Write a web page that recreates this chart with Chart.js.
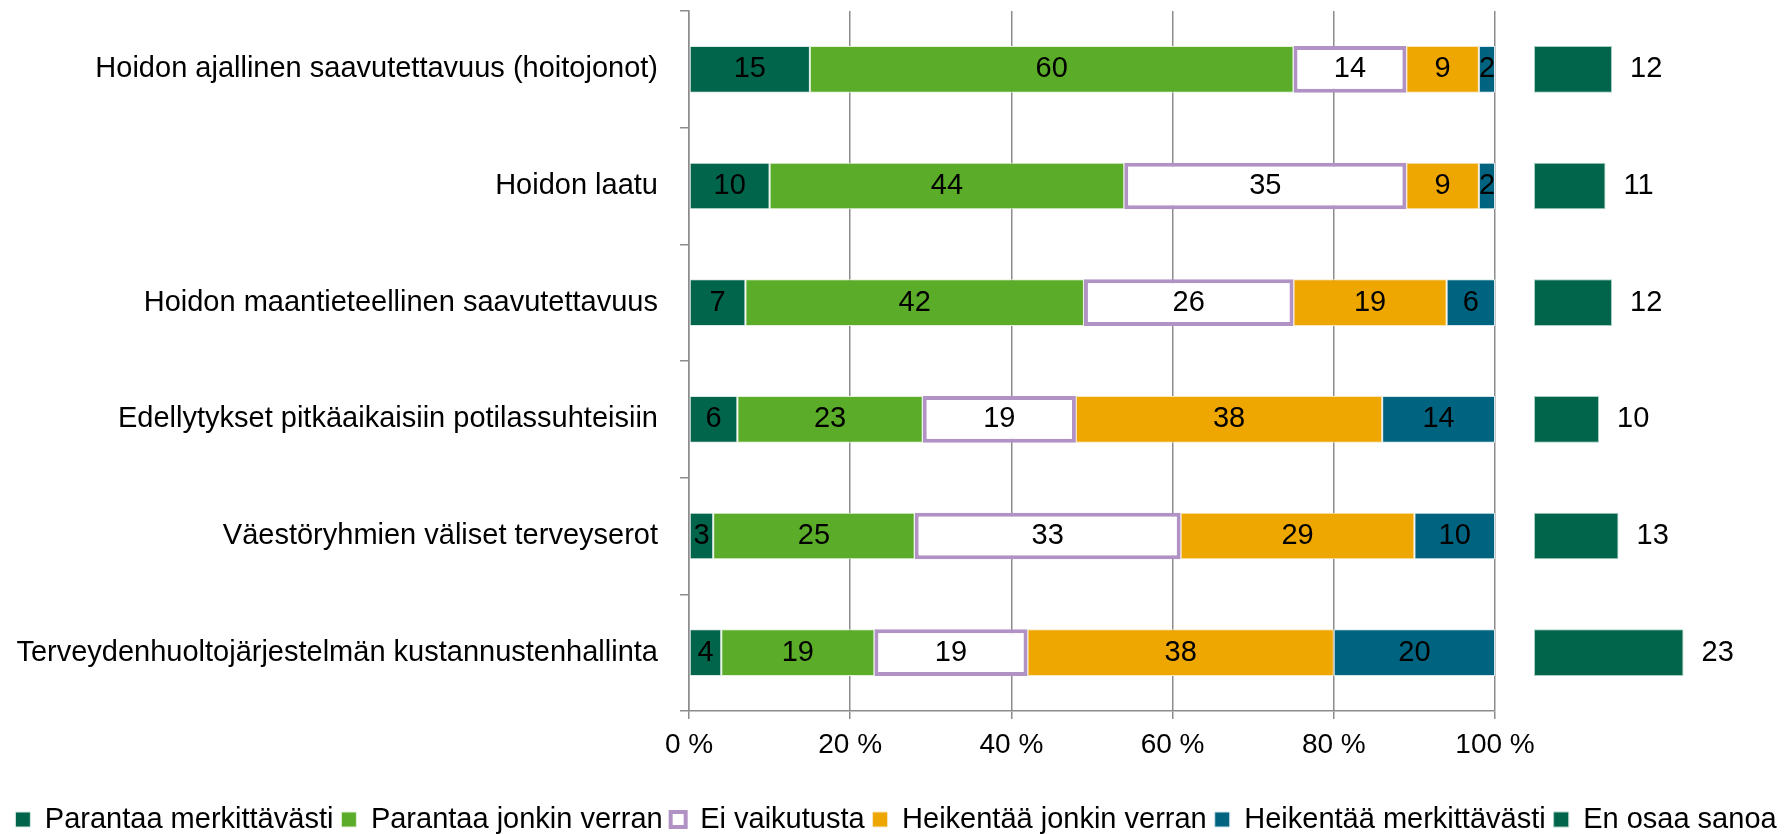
<!DOCTYPE html>
<html>
<head>
<meta charset="utf-8">
<script src="https://cdn.jsdelivr.net/npm/chart.js@4"></script>
<style>
  html, body { margin: 0; padding: 0; background: #fff; overflow: hidden; }
  #wrap { position: relative; width: 1792px; height: 844px; }
</style>
</head>
<body>
<div id="wrap"><canvas id="myChart"></canvas></div>
<script>
  const categories = [
    'Hoidon ajallinen saavutettavuus (hoitojonot)',
    'Hoidon laatu',
    'Hoidon maantieteellinen saavutettavuus',
    'Edellytykset pitkäaikaisiin potilassuhteisiin',
    'Väestöryhmien väliset terveyserot',
    'Terveydenhuoltojärjestelmän kustannustenhallinta',
  ];

  const parantaaMerk = [15, 10, 7, 6, 3, 4];
  const parantaaJonkin = [60, 44, 42, 23, 25, 19];
  const eiVaikutusta = [14, 35, 26, 19, 33, 19];
  const heikentaaJonkin = [9, 9, 19, 38, 29, 38];
  const heikentaaMerk = [2, 2, 6, 14, 10, 20];
  const enOsaaSanoa = [12, 11, 12, 10, 13, 23];

  const xTicks = [0, 20, 40, 60, 80, 100];

  const FONT = '"Liberation Sans", Arial, sans-serif';

  // numbers inside the bars, and after the "En osaa sanoa" bars
  const valueLabels = {
    id: 'valueLabels',
    afterDatasetsDraw(chart) {
      const ctx = chart.ctx;
      ctx.save();
      ctx.fillStyle = '#000';
      ctx.textBaseline = 'middle';
      chart.data.datasets.forEach((ds, i) => {
        const meta = chart.getDatasetMeta(i);
        meta.data.forEach((bar, j) => {
          const v = ds.data[j];
          if (ds.xAxisID === 'x2') {
            ctx.font = '29px ' + FONT;
            ctx.textAlign = 'left';
            ctx.fillText(v, bar.x + 18, bar.y);
          } else {
            ctx.font = '29px ' + FONT;
            ctx.textAlign = 'center';
            ctx.fillText(v, (bar.x + bar.base) / 2, bar.y);
          }
        });
      });
      ctx.restore();
    }
  };

  const data = {
    labels: categories,
    datasets: [
      {
        label: 'Parantaa merkittävästi',
        data: parantaaMerk,
        backgroundColor: '#00654b',
        borderColor: '#dbe9e4',
        borderWidth: 1,
        borderSkipped: false,
      },
      {
        label: 'Parantaa jonkin verran',
        data: parantaaJonkin,
        backgroundColor: '#5aac29',
        borderColor: '#e3f0da',
        borderWidth: 1,
        borderSkipped: false,
      },
      {
        label: 'Ei vaikutusta',
        data: eiVaikutusta,
        backgroundColor: '#ffffff',
        borderColor: '#b092c4',
        borderWidth: 4,
        borderSkipped: false,
      },
      {
        label: 'Heikentää jonkin verran',
        data: heikentaaJonkin,
        backgroundColor: '#eea600',
        borderColor: '#f8e6bf',
        borderWidth: 1,
        borderSkipped: false,
      },
      {
        label: 'Heikentää merkittävästi',
        data: heikentaaMerk,
        backgroundColor: '#006481',
        borderColor: '#d6e6ec',
        borderWidth: 1,
        borderSkipped: false,
      },
      {
        label: 'En osaa sanoa',
        data: enOsaaSanoa,
        xAxisID: 'x2',
        stack: 'eos',
        backgroundColor: '#00654b',
        borderColor: '#a9cfc3',
        borderWidth: 1,
        borderSkipped: false,
        clip: false,
      },
    ]
  };

  const config = {
    type: 'bar',
    data: data,
    plugins: [valueLabels],
    options: {
      indexAxis: 'y',
      responsive: true,
      maintainAspectRatio: false,
      animation: false,
      grouped: false,
      barPercentage: 0.4,
      categoryPercentage: 1,
      layout: { padding: { top: 11, right: 0, left: 0, bottom: 0 } },
      plugins: {
        tooltip: { enabled: false },
        legend: {
          position: 'bottom',
          labels: {
            boxWidth: 15,
            boxHeight: 15,
            padding: 8,
            color: '#000',
            font: { family: FONT, size: 29 },
          }
        }
      },
      scales: {
        x: {
          stacked: true,
          min: 0,
          max: 100,
          afterBuildTicks: (scale) => { scale.ticks = xTicks.map(v => ({ value: v })); },
          afterFit: (scale) => { scale.height = 86; },
          grid: { color: '#8c8c8c', lineWidth: 1.5, tickLength: 8 },
          border: { color: '#8c8c8c', width: 1.5 },
          ticks: {
            color: '#000',
            padding: 9,
            font: { family: FONT, size: 28 },
            callback: (v) => v + ' %',
          }
        },
        x2: {
          // separate scale for the "En osaa sanoa" bars, drawn right of 100 %
          type: 'linear',
          display: false,
          stacked: false,
          min: -130,
          max: -6,
        },
        y: {
          stacked: true,
          afterFit: (scale) => {
            scale.width = 689;
            scale.paddingTop = 0;
            scale.paddingBottom = 0;
          },
          grid: {
            drawOnChartArea: false,
            color: '#8c8c8c',
            lineWidth: 1.5,
            tickLength: 9,
            offset: true,
          },
          border: { color: '#8c8c8c', width: 1.5 },
          ticks: {
            color: '#000',
            padding: 22,
            font: { family: FONT, size: 29 },
          }
        },
        // empty right-hand strip that keeps room for the "En osaa sanoa" bars
        yRight: {
          type: 'category',
          position: 'right',
          afterFit: (scale) => {
            scale.width = 297;
            scale.paddingTop = 0;
            scale.paddingBottom = 0;
          },
          grid: { display: false },
          border: { display: false },
          ticks: { display: false },
        }
      }
    }
  };

  const myChart = new Chart(
    document.getElementById('myChart'),
    config
  );
</script>
</body>
</html>
